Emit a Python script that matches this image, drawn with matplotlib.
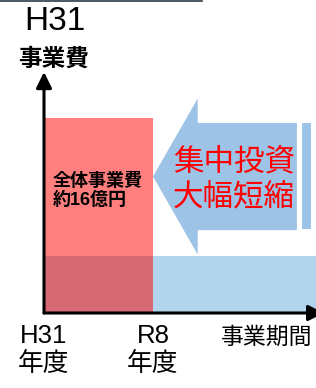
import matplotlib
matplotlib.use("Agg")
import matplotlib.pyplot as plt
from matplotlib.patches import FancyArrow
from matplotlib.lines import Line2D

plt.rcParams['font.family'] = ['Liberation Sans', 'Noto Sans CJK JP', 'DejaVu Sans']

# データ (横軸: 年度の位置, 縦軸: 事業費の相対値)
period_labels = ["H31\n年度", "R8\n年度"]
period_pos = [0, 1]
total_cost = 1.0          # 全体事業費 約16億円 (H31〜R8に集中)
original_cost = 0.29      # 従来の年あたり事業費
original_end = 3.0        # 従来の事業期間 (図の外まで続く)

pink = "#FF7F7F"
overlap = "#D86A76"
blue = "#B2D4EC"
arrow_blue = "#9DC3E6"

fig = plt.figure(figsize=(3.16, 3.88), dpi=100)
W, H = 316, 388
ax = fig.add_axes([44 / W, (H - 313) / H, (W - 44) / W, (313 - 72) / H])
ax.set_xlim(0, 272 / 109)
ax.set_ylim(0, 241 / 195)
for s in ax.spines.values():
    s.set_visible(False)
ax.set_yticks([])

# 従来の事業期間と集中投資の棒
ax.bar(period_pos[0], original_cost, width=original_end - period_pos[0],
       align="edge", color=blue, lw=0, zorder=1)
ax.bar(period_pos[0], total_cost, width=period_pos[1] - period_pos[0],
       align="edge", color=pink, lw=0, zorder=2)
ax.bar(period_pos[0], original_cost, width=period_pos[1] - period_pos[0],
       align="edge", color=overlap, lw=0, zorder=3)

# 左向きの矢印
ax.add_patch(FancyArrow(2.32, 0.70, -(2.32 - period_pos[1]), 0, width=0.55,
                        head_width=0.80, head_length=0.41,
                        length_includes_head=True, color=arrow_blue, lw=0, zorder=2))
ax.bar(2.367, 0.545, width=0.083, bottom=0.43, align="edge",
       color=arrow_blue, lw=0, zorder=2)

ax.text(1.743, 0.774, "集中投資", color="red", fontsize=22,
        ha="center", va="center", zorder=5)
ax.text(1.743, 0.595, "大幅短縮", color="red", fontsize=22,
        ha="center", va="center", zorder=5)
ax.text(0.083, 0.672, "全体事業費", fontsize=13, fontweight="bold",
        ha="left", va="center", zorder=5)
ax.text(0.083, 0.579, "約16億円", fontsize=13, fontweight="bold",
        ha="left", va="center", zorder=5)

# 軸 (矢印)
ax.annotate("", xy=(0, 1), xytext=(0, 0), xycoords="axes fraction",
            arrowprops=dict(arrowstyle="-|>,head_length=0.95,head_width=0.47",
                            color="black", lw=2.2, shrinkA=0, shrinkB=0),
            annotation_clip=False, zorder=6)
ax.annotate("", xy=(1.03, 0), xytext=(0, 0), xycoords="axes fraction",
            arrowprops=dict(arrowstyle="-|>,head_length=0.95,head_width=0.47",
                            color="black", lw=2.2, shrinkA=0, shrinkB=0),
            annotation_clip=False, zorder=6)

ax.set_xticks(period_pos, period_labels, fontsize=18.5, linespacing=1.2)
ax.tick_params(axis="x", length=0, pad=8)

fig.text(55 / W, 1 - 21 / H, "H31", fontsize=24, ha="center", va="center")
fig.text(53.5 / W, 1 - 59 / H, "事業費", fontsize=17, fontweight="bold",
         ha="center", va="center")
fig.text(221 / W, 1 - 337 / H, "事業期間", fontsize=16.5, ha="left", va="center")

fig.add_artist(Line2D([0, 202 / W], [1 - 0.5 / H, 1 - 0.5 / H],
                      color="#2F3A4A", lw=1.2))

fig.savefig("out.png", dpi=100)
